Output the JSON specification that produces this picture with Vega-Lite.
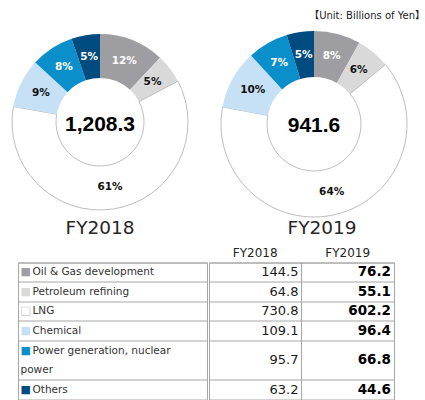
{
  "$schema": "https://vega.github.io/schema/vega-lite/v6.json",
  "padding": {"left": 0, "top": 10.5, "right": 0, "bottom": 0},
  "background": "white",
  "title": {"text": "【Unit: Billions of Yen】", "anchor": "end", "fontSize": 10, "fontWeight": "normal", "font": "DejaVu Sans, Noto Sans CJK JP", "color": "#1a1a1a", "offset": 9},
  "datasets": {
    "shares": [
      {"year": "FY2018", "category": "Oil & Gas development", "value": 144.5, "pct": 0.12},
      {"year": "FY2018", "category": "Petroleum refining", "value": 64.8, "pct": 0.05},
      {"year": "FY2018", "category": "LNG", "value": 730.8, "pct": 0.61},
      {"year": "FY2018", "category": "Chemical", "value": 109.1, "pct": 0.09},
      {"year": "FY2018", "category": "Power generation, nuclear power", "value": 95.7, "pct": 0.08},
      {"year": "FY2018", "category": "Others", "value": 63.2, "pct": 0.05},
      {"year": "FY2019", "category": "Oil & Gas development", "value": 76.2, "pct": 0.08},
      {"year": "FY2019", "category": "Petroleum refining", "value": 55.1, "pct": 0.06},
      {"year": "FY2019", "category": "LNG", "value": 602.2, "pct": 0.64},
      {"year": "FY2019", "category": "Chemical", "value": 96.4, "pct": 0.10},
      {"year": "FY2019", "category": "Power generation, nuclear power", "value": 66.8, "pct": 0.07},
      {"year": "FY2019", "category": "Others", "value": 44.6, "pct": 0.05}
    ],
    "totals": [
      {"year": "FY2018", "total": "1,208.3"},
      {"year": "FY2019", "total": "941.6"}
    ]
  },
  "spacing": 8,
  "vconcat": [
    {
      "spacing": 13,
      "resolve": {"scale": {"theta": "independent"}},
      "hconcat": [
        {
          "width": 164,
          "height": 185,
          "title": {"text": "FY2018", "orient": "bottom", "fontSize": 18.5, "fontWeight": "normal", "font": "DejaVu Sans", "color": "#262626", "offset": 4},
          "layer": [
            {
              "data": {"name": "shares"},
              "transform": [{"filter": "datum.year === 'FY2018'"}, {"window": [{"op": "row_number", "as": "rank"}]}],
              "mark": {"type": "arc", "outerRadius": 88, "innerRadius": 44, "stroke": "#bdbdbd"},
              "encoding": {
                "theta": {"field": "value", "type": "quantitative", "stack": true},
                "order": {"field": "rank", "type": "quantitative"},
                "color": {"field": "category", "type": "nominal", "legend": null,
                  "scale": {"domain": ["Oil & Gas development", "Petroleum refining", "LNG", "Chemical", "Power generation, nuclear power", "Others"],
                            "range": ["#9e9ea2", "#d9d9d9", "#ffffff", "#c6e0f5", "#0b8fcb", "#004b7f"]}},
                "strokeWidth": {"condition": {"test": "datum.category === 'LNG'", "value": 1}, "value": 0}
              }
            },
            {
              "data": {"name": "shares"},
              "transform": [{"filter": "datum.year === 'FY2018'"}, {"window": [{"op": "row_number", "as": "rank"}]}],
              "mark": {"type": "text", "radius": 66, "font": "DejaVu Sans", "fontWeight": "bold", "fontSize": 10.5, "baseline": "middle"},
              "encoding": {
                "theta": {"field": "value", "type": "quantitative", "stack": true},
                "order": {"field": "rank", "type": "quantitative"},
                "text": {"field": "pct", "type": "quantitative", "format": ".0%"},
                "color": {"condition": {"test": "indexof(['Oil & Gas development','Power generation, nuclear power','Others'], datum.category) >= 0", "value": "#ffffff"}, "value": "#111111"}
              }
            },
            {
              "data": {"name": "totals"},
              "transform": [{"filter": "datum.year === 'FY2018'"}],
              "mark": {"type": "text", "font": "Liberation Sans", "fontWeight": "bold", "fontSize": 21, "baseline": "middle", "dy": 3, "color": "#000000"},
              "encoding": {"text": {"field": "total", "type": "nominal"}}
            }
          ]
        },
        {
          "width": 222,
          "height": 189,
          "title": {"text": "FY2019", "orient": "bottom", "fontSize": 18.5, "fontWeight": "normal", "font": "DejaVu Sans", "color": "#262626", "offset": 0, "dx": 8},
          "layer": [
            {
              "data": {"name": "shares"},
              "transform": [{"filter": "datum.year === 'FY2019'"}, {"window": [{"op": "row_number", "as": "rank"}]}],
              "mark": {"type": "arc", "outerRadius": 93, "innerRadius": 47, "stroke": "#bdbdbd"},
              "encoding": {
                "theta": {"field": "value", "type": "quantitative", "stack": true},
                "order": {"field": "rank", "type": "quantitative"},
                "color": {"field": "category", "type": "nominal", "legend": null,
                  "scale": {"domain": ["Oil & Gas development", "Petroleum refining", "LNG", "Chemical", "Power generation, nuclear power", "Others"],
                            "range": ["#9e9ea2", "#d9d9d9", "#ffffff", "#c6e0f5", "#0b8fcb", "#004b7f"]}},
                "strokeWidth": {"condition": {"test": "datum.category === 'LNG'", "value": 1}, "value": 0}
              }
            },
            {
              "data": {"name": "shares"},
              "transform": [{"filter": "datum.year === 'FY2019'"}, {"window": [{"op": "row_number", "as": "rank"}]}],
              "mark": {"type": "text", "radius": 70, "font": "DejaVu Sans", "fontWeight": "bold", "fontSize": 10.5, "baseline": "middle"},
              "encoding": {
                "theta": {"field": "value", "type": "quantitative", "stack": true},
                "order": {"field": "rank", "type": "quantitative"},
                "text": {"field": "pct", "type": "quantitative", "format": ".0%"},
                "color": {"condition": {"test": "indexof(['Oil & Gas development','Power generation, nuclear power','Others'], datum.category) >= 0", "value": "#ffffff"}, "value": "#111111"}
              }
            },
            {
              "data": {"name": "totals"},
              "transform": [{"filter": "datum.year === 'FY2019'"}],
              "mark": {"type": "text", "font": "Liberation Sans", "fontWeight": "bold", "fontSize": 21, "baseline": "middle", "dy": 1.5, "color": "#000000"},
              "encoding": {"text": {"field": "total", "type": "nominal"}}
            }
          ]
        }
      ]
    },
    {
      "spacing": 0,
      "hconcat": [
        {
          "width": 189,
          "height": 137,
          "view": {"stroke": "#a6a6a6", "strokeWidth": 1},
          "data": {"name": "shares"},
          "transform": [{"filter": "datum.year === 'FY2018'"}],
          "encoding": {
            "x": {"datum": 0, "type": "quantitative", "scale": {"domain": [0, 1]}, "axis": null},
            "y": {"field": "category", "type": "nominal",
              "scale": {"type": "band", "domain": ["Oil & Gas development", "Petroleum refining", "LNG", "Chemical", "Power generation, nuclear power", "(cont.)", "Others"], "paddingInner": 0, "paddingOuter": 0},
              "axis": {"grid": true, "values": ["Oil & Gas development", "Petroleum refining", "LNG", "Chemical", "Power generation, nuclear power", "Others"], "bandPosition": 0, "labels": false, "ticks": false, "domain": false, "title": null, "gridColor": "#a6a6a6", "gridWidth": 1, "minExtent": 17, "maxExtent": 17}}
          },
          "layer": [
            {
              "mark": {"type": "text", "text": "■", "font": "DejaVu Sans", "fontSize": 11, "align": "left", "baseline": "middle", "dx": 2.5, "stroke": "#c8c8c8"},
              "encoding": {
                "color": {"field": "category", "type": "nominal", "legend": null,
                  "scale": {"domain": ["Oil & Gas development", "Petroleum refining", "LNG", "Chemical", "Power generation, nuclear power", "Others"],
                            "range": ["#9e9ea2", "#d9d9d9", "#ffffff", "#c6e0f5", "#0b8fcb", "#004b7f"]}},
                "strokeWidth": {"condition": {"test": "datum.category === 'LNG'", "value": 0.6}, "value": 0}
              }
            },
            {
              "transform": [{"filter": "datum.category !== 'Power generation, nuclear power'"}],
              "mark": {"type": "text", "font": "DejaVu Sans", "fontSize": 10.5, "align": "left", "baseline": "middle", "dx": 14.5, "color": "#333333"},
              "encoding": {"text": {"field": "category", "type": "nominal"}}
            },
            {
              "transform": [{"filter": "datum.category === 'Power generation, nuclear power'"}],
              "mark": {"type": "text", "font": "DejaVu Sans", "fontSize": 10.5, "align": "left", "baseline": "middle", "dx": 14.5, "color": "#333333", "text": "Power generation, nuclear"},
              "encoding": {}
            },
            {
              "transform": [{"filter": "datum.category === 'Power generation, nuclear power'"}],
              "mark": {"type": "text", "font": "DejaVu Sans", "fontSize": 10.5, "align": "left", "baseline": "middle", "dx": 2.5, "color": "#333333", "text": "power"},
              "encoding": {"y": {"datum": "(cont.)", "type": "nominal"}}
            }
          ]
        },
        {
          "width": 185,
          "height": 137,
          "view": {"stroke": "#a6a6a6", "strokeWidth": 1},
          "data": {"name": "shares"},
          "encoding": {
            "x": {"field": "year", "type": "nominal", "bandPosition": 1,
              "scale": {"type": "band", "domain": ["FY2018", "FY2019"], "paddingInner": 0, "paddingOuter": 0},
              "axis": {"orient": "top", "grid": true, "bandPosition": 0, "labelOffset": 0, "ticks": false, "tickSize": 0, "domain": false, "labelPadding": 3, "labelFontSize": 12, "labelFont": "DejaVu Sans", "labelColor": "#262626", "labelAngle": 0, "title": null, "gridColor": "#a6a6a6", "gridWidth": 1}},
            "y": {"field": "category", "type": "nominal",
              "scale": {"type": "band", "domain": ["Oil & Gas development", "Petroleum refining", "LNG", "Chemical", "Power generation, nuclear power", "(cont.)", "Others"], "paddingInner": 0, "paddingOuter": 0},
              "axis": {"grid": true, "values": ["Oil & Gas development", "Petroleum refining", "LNG", "Chemical", "Power generation, nuclear power", "Others"], "bandPosition": 0, "labels": false, "ticks": false, "domain": false, "title": null, "gridColor": "#a6a6a6", "gridWidth": 1, "minExtent": 0, "maxExtent": 0}},
            "text": {"field": "value", "type": "quantitative", "format": ".1f"}
          },
          "layer": [
            {
              "transform": [{"filter": "datum.year === 'FY2018' && datum.category !== 'Power generation, nuclear power'"}],
              "mark": {"type": "text", "font": "DejaVu Sans", "fontSize": 13, "align": "right", "baseline": "middle", "dx": -3, "color": "#1a1a1a"}
            },
            {
              "transform": [{"filter": "datum.year === 'FY2019' && datum.category !== 'Power generation, nuclear power'"}],
              "mark": {"type": "text", "font": "DejaVu Sans", "fontWeight": "bold", "fontSize": 13.5, "align": "right", "baseline": "middle", "dx": -3, "color": "#000000"}
            },
            {
              "transform": [{"filter": "datum.year === 'FY2018' && datum.category === 'Power generation, nuclear power'"}],
              "mark": {"type": "text", "font": "DejaVu Sans", "fontSize": 13, "align": "right", "baseline": "middle", "dx": -3, "color": "#1a1a1a"},
              "encoding": {"y": {"field": "category", "type": "nominal", "bandPosition": 1}}
            },
            {
              "transform": [{"filter": "datum.year === 'FY2019' && datum.category === 'Power generation, nuclear power'"}],
              "mark": {"type": "text", "font": "DejaVu Sans", "fontWeight": "bold", "fontSize": 13.5, "align": "right", "baseline": "middle", "dx": -3, "color": "#000000"},
              "encoding": {"y": {"field": "category", "type": "nominal", "bandPosition": 1}}
            }
          ]
        }
      ]
    }
  ],
  "config": {
    "view": {"stroke": null},
    "font": "DejaVu Sans"
  }
}
